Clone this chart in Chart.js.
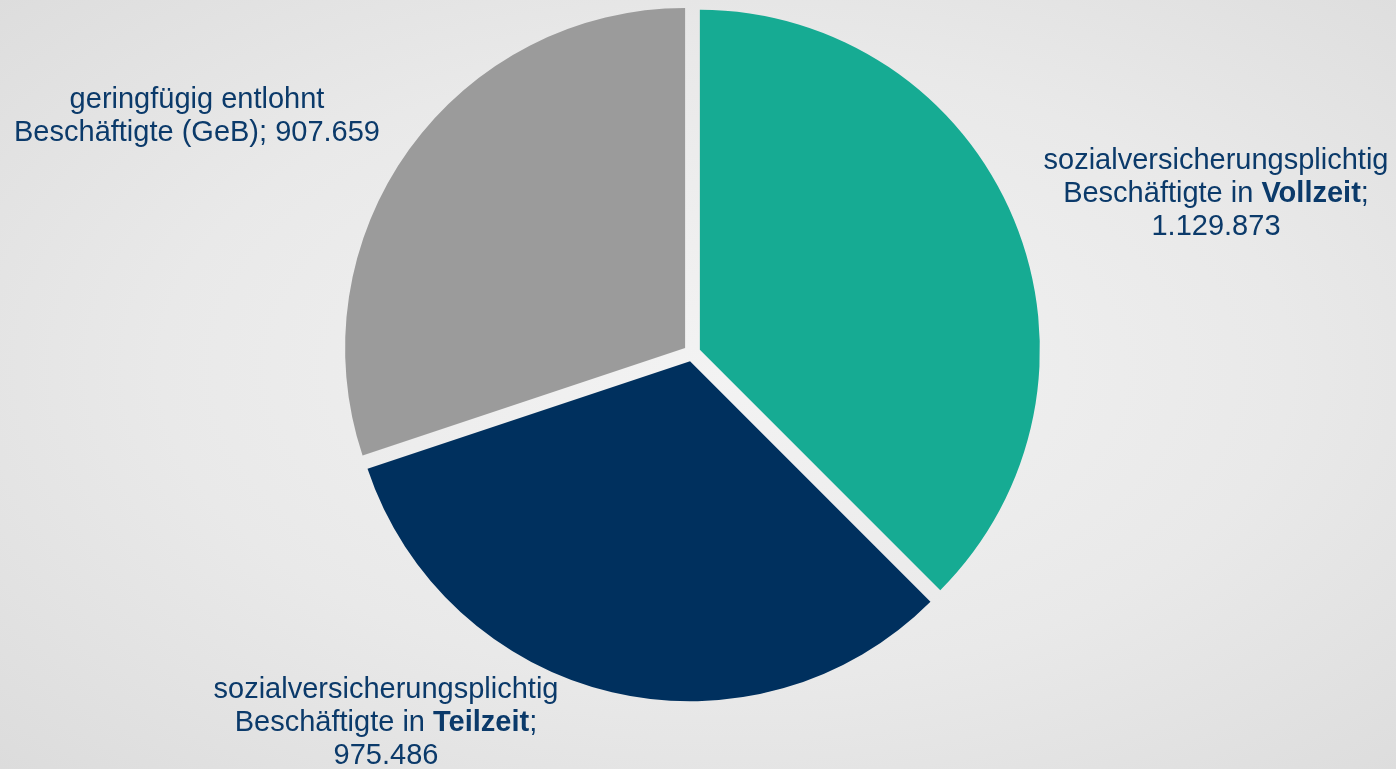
<!DOCTYPE html>
<html lang="de">
<head>
<meta charset="utf-8">
<title>Beschäftigte</title>
<script src="https://cdn.jsdelivr.net/npm/chart.js@4.4.1/dist/chart.umd.min.js"></script>
<style>
	html, body {
		margin: 0;
		padding: 0;
		width: 1396px;
		height: 769px;
		overflow: hidden;
		background: radial-gradient(ellipse at 52% 48%, #f3f3f3 0%, #e9e9e9 55%, #dcdcdc 100%);
	}
	#chartBox {
		position: relative;
		width: 1396px;
		height: 769px;
	}
</style>
</head>
<body>
<div id="chartBox">
	<canvas id="pieChart"></canvas>
</div>
<script>
// Kategorien (Reihenfolge im Uhrzeigersinn ab 12 Uhr)
const categories = [
	'sozialversicherungsplichtig Beschäftigte in Vollzeit',
	'sozialversicherungsplichtig Beschäftigte in Teilzeit',
	'geringfügig entlohnt Beschäftigte (GeB)'
];
const values = [1129873, 975486, 907659];
const sliceColors = ['#16AB93', '#00305E', '#9B9B9B'];

// Beschriftungen: Zeilen aus Textstücken, b = fett
const labelLines = [
	[
		[{ t: 'sozialversicherungsplichtig' }],
		[{ t: 'Beschäftigte in ' }, { t: 'Vollzeit', b: true }, { t: ';' }],
		[{ t: '1.129.873' }]
	],
	[
		[{ t: 'sozialversicherungsplichtig' }],
		[{ t: 'Beschäftigte in ' }, { t: 'Teilzeit', b: true }, { t: ';' }],
		[{ t: '975.486' }]
	],
	[
		[{ t: 'geringfügig entlohnt' }],
		[{ t: 'Beschäftigte (GeB); 907.659' }]
	]
];
// Position der ersten Zeile (Mitte) je Beschriftung
const labelPos = [[1216, 161], [386, 690], [197, 100]];

const labelFont = 'Liberation Sans, Arial, sans-serif';
const labelSize = 29;
const labelLineHeight = 33;
const labelColor = '#0B3A6A';

// Abstand der Segmente vom Mittelpunkt (explodiert, gleich breite Fugen)
const sliceGap = 8.5;

// Segmente entlang ihrer Winkelhalbierenden verschieben
const explodeSlices = {
	id: 'explodeSlices',
	afterDatasetsUpdate(chart) {
		const meta = chart.getDatasetMeta(0);
		meta.data.forEach(arc => {
			const mid = (arc.startAngle + arc.endAngle) / 2;
			arc.x += Math.cos(mid) * sliceGap;
			arc.y += Math.sin(mid) * sliceGap;
		});
	}
};

// Plugin zum Zeichnen der Beschriftungen mit fetten Teilstücken
const sliceLabels = {
	id: 'sliceLabels',
	afterDraw(chart) {
		const ctx = chart.ctx;
		ctx.save();
		ctx.fillStyle = labelColor;
		ctx.textBaseline = 'middle';
		ctx.textAlign = 'left';
		labelLines.forEach((lines, i) => {
			const [cx, cy] = labelPos[i];
			lines.forEach((parts, j) => {
				let total = 0;
				parts.forEach(p => {
					ctx.font = (p.b ? 'bold ' : '') + labelSize + 'px ' + labelFont;
					p.w = ctx.measureText(p.t).width;
					total += p.w;
				});
				let x = cx - total / 2;
				const y = cy + j * labelLineHeight;
				parts.forEach(p => {
					ctx.font = (p.b ? 'bold ' : '') + labelSize + 'px ' + labelFont;
					ctx.fillText(p.t, x, y);
					x += p.w;
				});
			});
		});
		ctx.restore();
	}
};

const ctx = document.getElementById('pieChart').getContext('2d');
new Chart(ctx, {
	type: 'pie',
	data: {
		labels: categories,
		datasets: [{
			data: values,
			backgroundColor: sliceColors,
			borderWidth: 0,
			offset: 0
		}]
	},
	options: {
		responsive: true,
		maintainAspectRatio: false,
		animation: false,
		radius: 340,
		layout: {
			padding: { left: 0, right: 12, top: 0, bottom: 63 }
		},
		plugins: {
			legend: { display: false },
			tooltip: { enabled: false }
		}
	},
	plugins: [explodeSlices, sliceLabels]
});
</script>
</body>
</html>
